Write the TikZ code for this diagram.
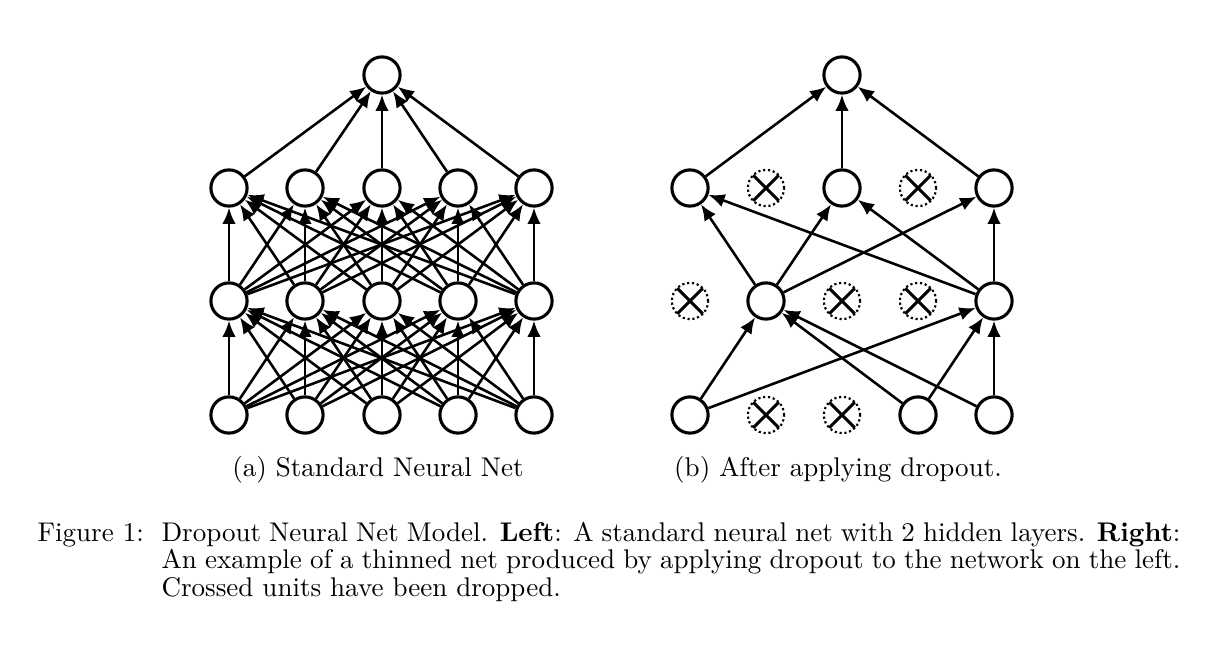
\documentclass[tikz,border=0pt]{standalone}
\usepackage{tikz}
\usetikzlibrary{arrows.meta}

\tikzset{
  unit/.style={circle,draw,line width=1.15pt,minimum size=13.4pt,inner sep=0pt},
  dropped/.style={circle,draw,densely dotted,line width=0.8pt,minimum size=13.4pt,inner sep=0pt,
    path picture={\draw[solid,line width=1.1pt]
      (path picture bounding box.north west) -- (path picture bounding box.south east)
      (path picture bounding box.north east) -- (path picture bounding box.south west);}},
  conn/.style={-{Latex[length=6pt,width=5pt]},line width=0.95pt},
  lbl/.style={inner sep=0pt},
}

\begin{document}
\begin{tikzpicture}[x=0.37pt,y=-0.37pt,font={\fontsize{10}{10.2}\selectfont}]
\useasboundingbox (0,0) rectangle (1218,670);

% (a) standard net
\foreach \i/\x in {1/229,2/305,3/382,4/458,5/534}{
  \node[unit] (L0-\i) at (\x,415) {};
  \node[unit] (L1-\i) at (\x,301) {};
  \node[unit] (L2-\i) at (\x,188) {};
}
\node[unit] (Lout) at (382,75) {};
\foreach \i in {1,...,5}{
  \foreach \j in {1,...,5}{
    \draw[conn] (L0-\i) -- (L1-\j);
    \draw[conn] (L1-\i) -- (L2-\j);
  }
  \draw[conn] (L2-\i) -- (Lout);
}

% (b) thinned net
\node[unit]    (R0-1) at (690,415) {};
\node[dropped] (R0-2) at (766,415) {};
\node[dropped] (R0-3) at (842,415) {};
\node[unit]    (R0-4) at (918,415) {};
\node[unit]    (R0-5) at (994,415) {};
\node[dropped] (R1-1) at (690,301) {};
\node[unit]    (R1-2) at (766,301) {};
\node[dropped] (R1-3) at (842,301) {};
\node[dropped] (R1-4) at (918,301) {};
\node[unit]    (R1-5) at (994,301) {};
\node[unit]    (R2-1) at (690,188) {};
\node[dropped] (R2-2) at (766,188) {};
\node[unit]    (R2-3) at (842,188) {};
\node[dropped] (R2-4) at (918,188) {};
\node[unit]    (R2-5) at (994,188) {};
\node[unit]    (Rout) at (842,75) {};
\foreach \a/\b in {R0-1/R1-2,R0-1/R1-5,R0-4/R1-2,R0-4/R1-5,R0-5/R1-2,R0-5/R1-5,
                   R1-2/R2-1,R1-2/R2-3,R1-2/R2-5,R1-5/R2-1,R1-5/R2-3,R1-5/R2-5,
                   R2-1/Rout,R2-3/Rout,R2-5/Rout}
  \draw[conn] (\a) -- (\b);

% captions
\node[lbl,anchor=base] (capa) at (378,476) {(a) Standard Neural Net};
\node[lbl,anchor=base] (capb) at (838,476) {(b) After applying dropout.};
\node[lbl,anchor=base west] (fignum) at (37,541) {Figure 1:};
\node[lbl,anchor=base west,text width=377pt,align=justify] (captext) at (161,541)
  {Dropout Neural Net Model. \textbf{Left}: A standard neural net with 2 hidden layers. \textbf{Right}:\linebreak
   An example of a thinned net produced by applying dropout to the network on the left.\linebreak
   Crossed units have been dropped.};
\end{tikzpicture}
\end{document}
